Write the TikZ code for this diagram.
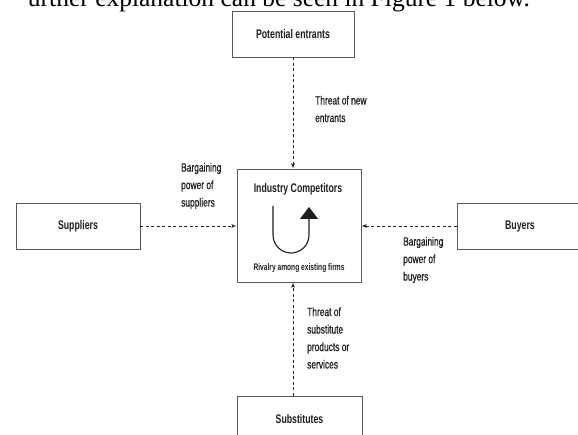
\documentclass[tikz,border=0pt]{standalone}
\usepackage{fontspec}
\setmainfont{Liberation Serif}
\newfontfamily\condfont[FakeStretch=0.7]{Liberation Sans}
\newfontfamily\condmedfont[FakeStretch=0.7, FakeBold=0.6]{Liberation Sans}
\usepackage{tikz}
\usetikzlibrary{arrows}
\usetikzlibrary{arrows.meta}
\usetikzlibrary{positioning}
\definecolor{boxline}{RGB}{90,90,90}
\definecolor{ink}{RGB}{30,30,30}
\tikzset{forcebox/.style = {draw=boxline, line width=0.8pt, text=ink,
                            font=\condfont\bfseries\fontsize{12.5}{14}\selectfont}}
\tikzset{forcelbl/.style = {anchor=west, align=left, inner sep=0, text=ink,
                            font=\condmedfont\fontsize{12}{17.5}\selectfont}}
\tikzset{force/.style = {draw=ink, line width=0.8pt, dash pattern=on 3pt off 2.5pt, -latex'}}

\begin{document}
\begin{tikzpicture}[x=1pt, y=-1pt]
      \useasboundingbox (0,0) rectangle (578,435);
      \clip (0,0) rectangle (578,435);

      \node [anchor=base east, inner sep=0, font=\fontsize{25.5}{28}\selectfont] (intro) at (530, 7)
            {urther explanation can be seen in Figure 1 below.};

      \node [forcebox, minimum width=122, minimum height=46] (entrants) at (293, 34) {Potential entrants};
      \node [forcebox, minimum width=124, minimum height=113] (industry) at (299, 225.5) {};
      \node [forcebox, minimum width=124, minimum height=46] (suppliers) at (78, 226) {Suppliers};
      \node [forcebox, minimum width=126, minimum height=46] (buyers) at (520, 226) {Buyers};
      \node [forcebox, minimum width=125, minimum height=46] (substitutes) at (299.5, 419) {Substitutes};

      \node [forcebox, draw=none] (title) at (298, 189) {Industry Competitors};
      \node [forcebox, draw=none, font=\condfont\bfseries\fontsize{9.5}{11}\selectfont] (rivalry) at (299, 268)
            {Rivalry among existing firms};
      \draw [ink, line width=1.1pt, -{Triangle[width=18pt, length=12pt]}]
            (273, 206) -- (273, 235) arc [start angle=180, end angle=0, radius=18] -- (309, 207);

      \draw [force] (entrants.south) -- (entrants.south |- industry.north);
      \draw [force] (substitutes.north -| entrants.south) -- (industry.south -| entrants.south);
      \draw [force] (suppliers.east) -- (suppliers.east -| industry.west);
      \draw [force] (buyers.west) -- (buyers.west -| industry.east);

      \node [forcelbl] (newlbl) at (315, 109) {Threat of new\\entrants};
      \node [forcelbl] (suplbl) at (181, 186) {Bargaining\\power of\\suppliers};
      \node [forcelbl] (buylbl) at (403, 260) {Bargaining\\power of\\buyers};
      \node [forcelbl] (sublbl) at (307, 338) {Threat of\\substitute\\products or\\services};
    \end{tikzpicture}
\end{document}
